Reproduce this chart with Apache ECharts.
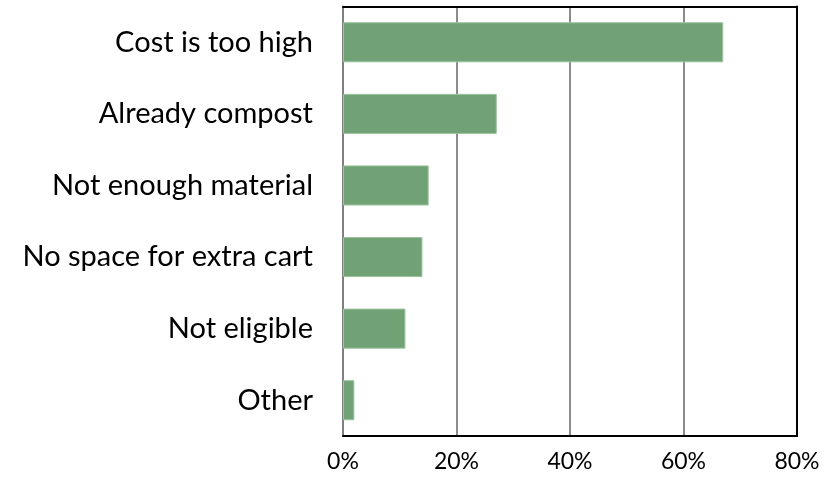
<!DOCTYPE html>
<html><head><meta charset="utf-8">
<script src="https://cdn.jsdelivr.net/npm/echarts@6/dist/echarts.min.js"></script>
<style>html,body{margin:0;padding:0;background:#fff}#c{width:839px;height:483px}</style>
</head><body><div id="c"></div>
<script>
const categories = ["Cost is too high","Already compost","Not enough material","No space for extra cart","Not eligible","Other"];
const values = [67.0, 27.1, 15.1, 14.0, 11.0, 2.0];
const xTicks = [0, 20, 40, 60, 80];

const font = 'Lato, "Open Sans", sans-serif';
const chart = echarts.init(document.getElementById('c'), null, {renderer:'canvas'});
chart.setOption({
  animation:false,
  grid:{left:343,right:42,top:6.5,bottom:47},
  xAxis:[{type:'value',min:xTicks[0],max:xTicks[xTicks.length-1],interval:20,
    axisLine:{show:true,onZero:false,lineStyle:{color:'#000',width:2}},axisTick:{show:false},
    splitLine:{show:true,lineStyle:{color:'#8c8c8c',width:2}},
    axisLabel:{formatter:v=>v+'%',fontFamily:font,fontSize:23,color:'#000',margin:14}},
   {type:'value',position:'top',min:0,max:80,interval:20,
    axisLine:{show:true,onZero:false,lineStyle:{color:'#000',width:2}},axisTick:{show:false},
    splitLine:{show:false},axisLabel:{show:false}}],
  yAxis:[{type:'category',data:categories.slice().reverse(),
    axisLine:{show:true,onZero:false,lineStyle:{color:'#808080',width:2}},axisTick:{show:false},
    axisLabel:{fontFamily:font,fontSize:29,color:'#000',margin:30}},
   {type:'category',position:'right',data:categories.slice().reverse(),
    axisLine:{show:true,onZero:false,lineStyle:{color:'#000',width:2}},axisTick:{show:false},
    axisLabel:{show:false},splitLine:{show:false}}],
  series:[{type:'bar',data:values.slice().reverse(),barWidth:'56%',
    itemStyle:{color:'#71A276',borderColor:'#9cc49f',borderWidth:1}}]
});
</script></body></html>
